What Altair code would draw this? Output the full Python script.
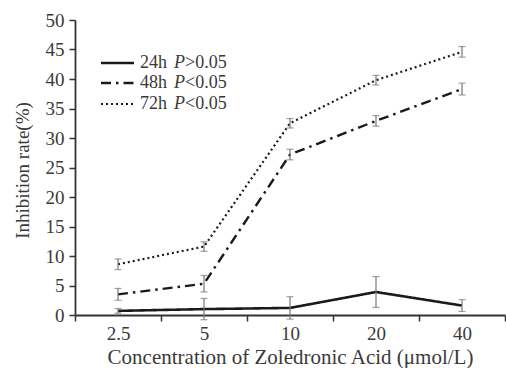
import altair as alt
import pandas as pd

conc = ["2.5", "5", "10", "20", "40"]
series = ["24h", "48h", "72h"]
p_text = [">0.05", "<0.05", "<0.05"]
mean_24 = [0.7, 1.0, 1.2, 3.9, 1.6]
err_24 = [0.4, 1.8, 1.9, 2.6, 1.0]
mean_48 = [3.5, 5.3, 27.2, 32.9, 38.3]
err_48 = [1.0, 1.4, 0.9, 0.9, 1.0]
mean_72 = [8.6, 11.6, 32.5, 39.8, 44.6]
err_72 = [0.9, 0.8, 0.8, 0.8, 0.9]

means = [mean_24, mean_48, mean_72]
errs = [err_24, err_48, err_72]
rows = []
for s, m, e in zip(series, means, errs):
    for c, mv, ev in zip(conc, m, e):
        rows.append({"conc": c, "series": s, "mean": mv, "lo": mv - ev, "hi": mv + ev})
df = pd.DataFrame(rows)

FONT = "Liberation Serif"
dashes = {"24h": [1, 0], "48h": [10, 5, 2.5, 5], "72h": [2, 3]}
widths = {"24h": 2.6, "48h": 2.4, "72h": 2.2}

xaxis = alt.Axis(title="Concentration of  Zoledronic Acid (\u03bcmol/L)", labelAngle=0,
                 tickBand="extent", tickSize=6, labelPadding=3, titleY=48,
                 titleBaseline="alphabetic", titleFontSize=21, labelFontSize=19)
xenc = alt.X("conc:N", sort=conc,
             scale=alt.Scale(type="band", domain=conc, paddingInner=0, paddingOuter=0),
             axis=xaxis)
yscale = alt.Scale(domain=[0, 50], nice=False, zero=True)
yaxis = alt.Axis(title="Inhibition rate(%)", values=list(range(0, 55, 5)),
                 tickSize=6, labelPadding=5, grid=False, titleX=-53, titleY=150,
                 titleBaseline="middle", titleAngle=-90, titleFontSize=19, labelFontSize=19)

layers = []
for s in series:
    d = df[df.series == s]
    base = alt.Chart(d)
    layers.append(base.mark_line(color="#1a1a1a", strokeWidth=widths[s], strokeDash=dashes[s]).encode(
        x=xenc, y=alt.Y("mean:Q", scale=yscale, axis=yaxis)))
    layers.append(base.mark_rule(color="#777777", strokeWidth=1.2).encode(
        x=xenc, y=alt.Y("lo:Q", scale=yscale, axis=yaxis), y2="hi:Q"))
    layers.append(base.mark_tick(color="#777777", size=7, thickness=1.2).encode(
        x=xenc, y=alt.Y("lo:Q", scale=yscale, axis=yaxis)))
    layers.append(base.mark_tick(color="#777777", size=7, thickness=1.2).encode(
        x=xenc, y=alt.Y("hi:Q", scale=yscale, axis=yaxis)))

# manual legend (positions relative to plot area)
leg_y = [43, 63, 84]
for s, p, yy in zip(series, p_text, leg_y):
    ld = pd.DataFrame({"series": [s], "p": ["P"], "rest": [p]})
    lb = alt.Chart(ld)
    layers.append(lb.mark_rule(color="#1a1a1a", strokeWidth=widths[s], strokeDash=dashes[s]).encode(
        x=alt.value(26), x2=alt.value(59), y=alt.value(yy)))
    layers.append(lb.mark_text(font=FONT, fontSize=18, align="left", baseline="middle", color="#3a3a3a").encode(
        x=alt.value(65), y=alt.value(yy), text="series:N"))
    layers.append(lb.mark_text(font=FONT, fontSize=18, align="left", baseline="middle", color="#3a3a3a",
                               fontStyle="italic").encode(
        x=alt.value(99), y=alt.value(yy), text="p:N"))
    layers.append(lb.mark_text(font=FONT, fontSize=18, align="left", baseline="middle", color="#3a3a3a").encode(
        x=alt.value(110), y=alt.value(yy), text="rest:N"))

chart = alt.layer(*layers).properties(
    width=430, height=295,
    padding={"left": 75, "top": 20, "right": 1, "bottom": 53},
    autosize=alt.AutoSizeParams(type="none"),
).configure_view(stroke=None).configure_axis(
    labelFont=FONT, titleFont=FONT,
    labelColor="#3a3a3a", titleColor="#3a3a3a", domainColor="#333333", tickColor="#333333",
    domainWidth=1.8, tickWidth=1.5, titleFontWeight="normal",
)

chart.save("out.html", embed_options={"renderer": "svg", "actions": False})
